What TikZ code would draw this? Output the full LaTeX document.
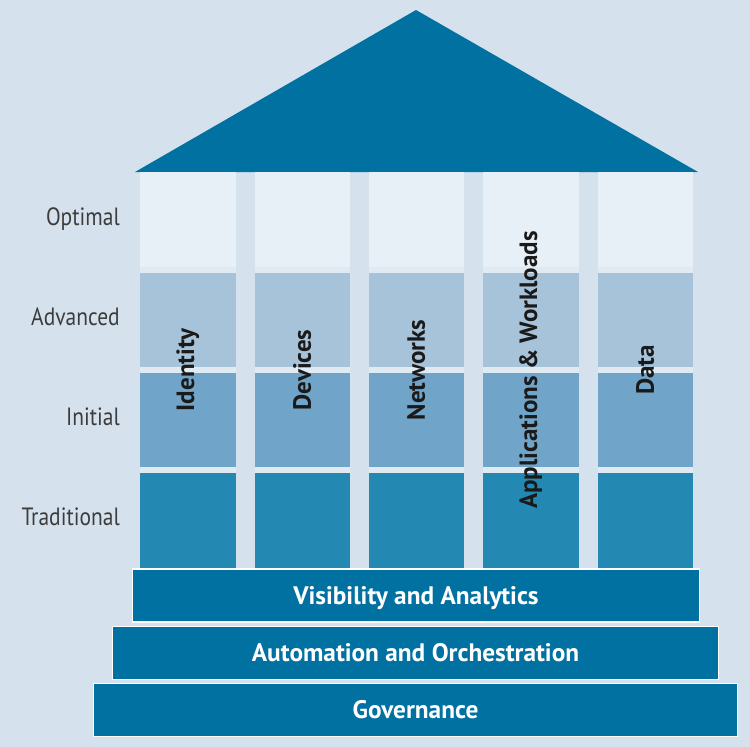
\documentclass[tikz,border=0pt]{standalone}
\usepackage{fontspec}
\setmainfont{PT Sans}
\newfontfamily\lvlfont[FakeStretch=0.86]{PT Sans}
\definecolor{bg}{HTML}{D5E2ED}
\definecolor{optc}{HTML}{E7EFF7}
\definecolor{advc}{HTML}{A7C3DA}
\definecolor{inic}{HTML}{70A4C8}
\definecolor{trac}{HTML}{2389B3}
\definecolor{roofc}{HTML}{0071A0}
\definecolor{gapc}{HTML}{E0EAF3}
\definecolor{lvltext}{HTML}{3C3C3C}
\definecolor{coltext}{HTML}{1A1A1A}
\tikzset{
  cell/.style={rectangle, inner sep=0pt, anchor=north west, minimum width=95.5pt, draw=none},
  colbg/.style={cell, fill=gapc, minimum height=395pt},
  lvl/.style={anchor=base east, inner sep=0pt, text=lvltext, font=\lvlfont\fontsize{25}{28}\selectfont},
  collabel/.style={rotate=90, inner sep=0pt, text=coltext, font=\bfseries\fontsize{25}{28}\selectfont},
  bar/.style={rectangle, fill=roofc, draw=white, line width=1.6pt, inner sep=0pt, minimum height=53pt,
    text=white, text height=17pt, text depth=0pt, font=\bfseries\fontsize{25.3}{28}\selectfont},
}
\begin{document}
\begin{tikzpicture}[x=1pt,y=-1pt]
\fill[bg] (0,0) rectangle (750,747);
\useasboundingbox (0,0) rectangle (750,747);
% roof
\fill[roofc] (135,172) -- (416,10) -- (698,172) -- cycle;
% columns
\foreach \i/\x in {1/140,2/254.3,3/368.6,4/483,5/597.3}{
  \node[colbg] (col\i) at (\x,172) {};
  \node[cell, fill=optc, minimum height=95pt] (opt\i) at (\x,172) {};
  \node[cell, fill=advc, minimum height=94pt] (adv\i) at (\x,273) {};
  \node[cell, fill=inic, minimum height=94pt] (ini\i) at (\x,373) {};
  \node[cell, fill=trac, minimum height=94.5pt] (tra\i) at (\x,473) {};
}
% column labels
\node[collabel] (lab1) at (187.75,370) {Identity};
\node[collabel] (lab2) at (302.05,370) {Devices};
\node[collabel] (lab3) at (416.35,370) {Networks};
\node[collabel] (lab4) at (530.75,370) {Applications \& Workloads};
\node[collabel] (lab5) at (645.05,370) {Data};
% level labels
\node[lvl] (lopt) at (120,225) {Optimal};
\node[lvl] (ladv) at (120,325) {Advanced};
\node[lvl] (lini) at (120,425) {Initial};
\node[lvl] (ltra) at (120,525) {Traditional};
% base bars
\node[bar, minimum width=567pt] (vis) at (416,595.5) {Visibility and Analytics};
\node[bar, minimum width=606pt] (aut) at (415.5,653) {Automation and Orchestration};
\node[bar, minimum width=644pt] (gov) at (415.5,710) {Governance};
\end{tikzpicture}
\end{document}
